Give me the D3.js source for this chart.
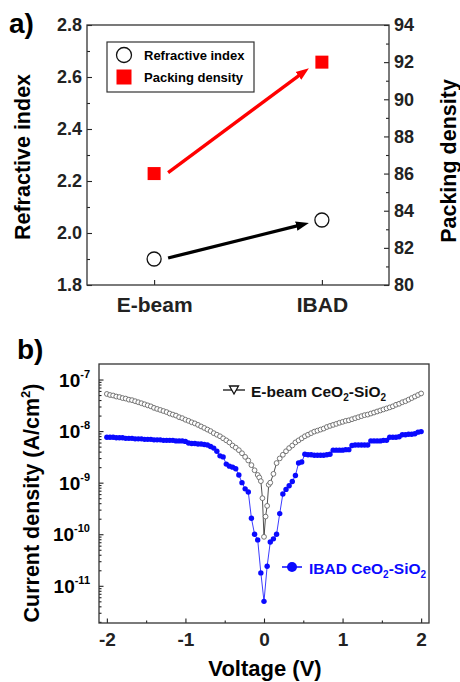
<!DOCTYPE html>
<html>
<head>
<meta charset="utf-8">
<script src="https://cdn.jsdelivr.net/npm/d3@7"></script>
<style>
  body { margin: 0; background: #fff; }
  text { font-family: "Liberation Sans", Arial, sans-serif; font-weight: bold; }
</style>
</head>
<body>
<div id="chart"></div>
<script>
// ---------- panel a) data ----------
const methods = ["E-beam", "IBAD"];
const refractiveIndex = [1.90, 2.05];
const packingDensity = [86, 92];
const riTicks = [1.8, 2.0, 2.2, 2.4, 2.6, 2.8];
const pdTicks = [80, 82, 84, 86, 88, 90, 92, 94];

// ---------- panel b) data (J-V sweep) ----------
const vTicks = [-2, -1, 0, 1, 2];
const vMinorTicks = [-1.5, -0.5, 0.5, 1.5];
const jDecades = [1e-7, 1e-8, 1e-9, 1e-10, 1e-11];

const ebeamV = [-2, -1.96, -1.92, -1.88, -1.84, -1.8, -1.76, -1.72, -1.68, -1.64, -1.6, -1.56, -1.52, -1.48, -1.44,
  -1.4, -1.36, -1.32, -1.28, -1.24, -1.2, -1.16, -1.12, -1.08, -1.04, -1, -0.96, -0.92, -0.88, -0.84, -0.8, -0.76,
  -0.72, -0.68, -0.64, -0.6, -0.56, -0.52, -0.48, -0.44, -0.4, -0.36, -0.32, -0.28, -0.24, -0.2, -0.16, -0.12, -0.08,
  -0.06, -0.04, -0.02, 0, 0.02, 0.04, 0.06, 0.08,
  0.12, 0.16, 0.2, 0.24, 0.28, 0.32, 0.36, 0.4, 0.44, 0.48, 0.52, 0.56, 0.6, 0.64, 0.68, 0.72, 0.76, 0.8, 0.84, 0.88,
  0.92, 0.96, 1, 1.04, 1.08, 1.12, 1.16, 1.2, 1.24, 1.28, 1.32, 1.36, 1.4, 1.44, 1.48, 1.52, 1.56, 1.6, 1.64, 1.68,
  1.72, 1.76, 1.8, 1.84, 1.88, 1.92, 1.96, 2];
const ebeamJ = [5.25e-8, 5.01e-8, 4.9e-8, 4.68e-8, 4.57e-8, 4.37e-8, 4.27e-8, 4.07e-8, 3.98e-8, 3.8e-8, 3.63e-8, 3.47e-8,
  3.31e-8, 3.16e-8, 3.02e-8, 2.82e-8, 2.69e-8, 2.57e-8, 2.45e-8, 2.34e-8, 2.19e-8, 2.09e-8, 2.0e-8, 1.86e-8, 1.78e-8,
  1.66e-8, 1.58e-8, 1.48e-8, 1.41e-8, 1.32e-8, 1.23e-8, 1.15e-8, 1.07e-8, 1.0e-8, 9.12e-9, 8.51e-9, 7.94e-9, 7.24e-9,
  6.61e-9, 6.03e-9, 5.25e-9, 4.79e-9, 4.27e-9, 3.72e-9, 3.16e-9, 2.69e-9, 2.19e-9, 1.74e-9, 1.41e-9,
  1.26e-9, 1.07e-9, 5.0e-10, 8.9e-11, 2.2e-10, 3.55e-10, 9.1e-10, 1.0e-9,
  1.48e-9, 2.4e-9, 2.95e-9, 3.47e-9, 4.07e-9, 4.68e-9, 5.25e-9, 6.03e-9, 6.61e-9, 7.24e-9, 7.94e-9, 8.51e-9, 9.12e-9,
  9.77e-9, 1.02e-8, 1.07e-8, 1.12e-8, 1.2e-8, 1.26e-8, 1.32e-8, 1.38e-8, 1.45e-8, 1.51e-8, 1.58e-8, 1.62e-8, 1.7e-8,
  1.78e-8, 1.86e-8, 1.95e-8, 2.04e-8, 2.09e-8, 2.19e-8, 2.29e-8, 2.4e-8, 2.51e-8, 2.63e-8, 2.75e-8, 2.88e-8, 3.02e-8,
  3.24e-8, 3.39e-8, 3.63e-8, 3.8e-8, 4.07e-8, 4.37e-8, 4.68e-8, 5.01e-8, 5.37e-8];

const ibadV = [-2, -1.96, -1.92, -1.88, -1.84, -1.8, -1.76, -1.72, -1.68, -1.64, -1.6, -1.56, -1.52, -1.48, -1.44,
  -1.4, -1.36, -1.32, -1.28, -1.24, -1.2, -1.16, -1.12, -1.08, -1.04, -1, -0.96, -0.92, -0.88, -0.84, -0.8, -0.76,
  -0.72, -0.68, -0.64, -0.6, -0.56, -0.52, -0.48, -0.44, -0.4, -0.36, -0.32, -0.28, -0.24, -0.2, -0.16, -0.12, -0.08,
  -0.04, 0, 0.04, 0.08, 0.12, 0.16, 0.2, 0.24, 0.28, 0.32, 0.36, 0.4, 0.44, 0.48, 0.52, 0.56, 0.6, 0.64, 0.68, 0.72,
  0.76, 0.8, 0.84, 0.88, 0.92, 0.96, 1, 1.04, 1.08, 1.12, 1.16, 1.2, 1.24, 1.28, 1.32, 1.36, 1.4, 1.44, 1.48, 1.52,
  1.56, 1.6, 1.64, 1.68, 1.72, 1.76, 1.8, 1.84, 1.88, 1.92, 1.96, 2];
const ibadJ = [7.59e-9, 7.59e-9, 7.59e-9, 7.41e-9, 7.41e-9, 7.41e-9, 7.24e-9, 7.24e-9, 7.24e-9, 7.08e-9, 7.08e-9,
  7.08e-9, 6.92e-9, 6.92e-9, 6.92e-9, 6.76e-9, 6.76e-9, 6.76e-9, 6.61e-9, 6.61e-9, 6.61e-9, 6.61e-9, 6.46e-9, 6.46e-9,
  6.46e-9, 6.31e-9, 5.89e-9, 5.75e-9, 5.75e-9, 5.62e-9, 5.62e-9, 5.5e-9, 5.37e-9, 5.01e-9, 4.68e-9, 4.07e-9, 3.31e-9,
  3.16e-9, 2.29e-9, 2.09e-9, 2.0e-9, 1.86e-9, 1.41e-9, 1.0e-9, 7.59e-10, 6.61e-10, 2.04e-10, 1.0e-10, 7.76e-11,
  1.78e-11, 5.0e-12, 2.4e-11, 7.08e-11, 8.13e-11, 1.0e-10, 2.51e-10, 6.03e-10, 7.41e-10, 8.71e-10, 1.05e-9, 1.38e-9,
  2.4e-9, 2.51e-9, 3.55e-9, 3.47e-9, 3.47e-9, 3.39e-9, 3.39e-9, 3.39e-9, 3.39e-9, 3.47e-9, 3.55e-9, 4.27e-9, 4.27e-9,
  4.27e-9, 4.27e-9, 4.37e-9, 4.37e-9, 5.25e-9, 5.37e-9, 5.37e-9, 5.37e-9, 5.37e-9, 5.37e-9, 6.46e-9, 6.46e-9, 6.46e-9,
  6.46e-9, 6.61e-9, 6.61e-9, 7.59e-9, 7.59e-9, 7.59e-9, 7.76e-9, 8.51e-9, 8.51e-9, 8.71e-9, 8.71e-9, 8.91e-9, 9.55e-9,
  9.77e-9];

const RED = "#ff0000";
const BLUE = "#0a0aff";

let svg = d3.select("#chart").append("svg")
    .attr("width", 460)
    .attr("height", 682);

// arrow heads for panel a
let defs = svg.append("defs");
[["headRed", RED], ["headBlack", "#000"]].forEach(([id, c]) => {
  defs.append("marker")
      .attr("id", id)
      .attr("markerUnits", "userSpaceOnUse")
      .attr("viewBox", "0 -6 13 12")
      .attr("markerWidth", 13).attr("markerHeight", 12)
      .attr("refX", 6).attr("refY", 0)
      .attr("orient", "auto")
    .append("path")
      .attr("d", "M0,-4.8 L13,0 L0,4.8 Z")
      .attr("fill", c);
});

let styleAxis = (g, size) => {
  g.select(".domain").remove();
  g.attr("font-family", null).attr("font-size", size).attr("color", "#222");
  g.selectAll(".tick line").attr("stroke-width", 1.1);
};

// ================= panel a) =================
let xA = d3.scalePoint().domain(methods).range([87, 389]).padding(0.4);
let yRI = d3.scaleLinear().domain([1.8, 2.8]).range([285, 25]);
let yPD = d3.scaleLinear().domain([80, 94]).range([285, 25]);

let riMinor = d3.pairs(riTicks).map(([a, b]) => (a + b) / 2);
let pdMinor = d3.pairs(pdTicks).map(([a, b]) => (a + b) / 2);

// left axis (refractive index)
svg.append("g").attr("transform", "translate(87,0)")
    .call(d3.axisLeft(yRI).tickValues(riMinor).tickSize(-3).tickFormat(""))
    .call(g => styleAxis(g, 18));
svg.append("g").attr("transform", "translate(87,0)")
    .call(d3.axisLeft(yRI).tickValues(riTicks).tickSize(-5).tickPadding(5).tickFormat(d3.format(".1f")))
    .call(g => styleAxis(g, 18));

// right axis (packing density)
svg.append("g").attr("transform", "translate(389,0)")
    .call(d3.axisRight(yPD).tickValues(pdMinor).tickSize(-3).tickFormat(""))
    .call(g => styleAxis(g, 18));
svg.append("g").attr("transform", "translate(389,0)")
    .call(d3.axisRight(yPD).tickValues(pdTicks).tickSize(-5).tickPadding(5))
    .call(g => styleAxis(g, 18));

// bottom axis (method)
svg.append("g").attr("transform", "translate(0,285)")
    .call(d3.axisBottom(xA).tickSize(-5).tickPadding(12))
    .call(g => styleAxis(g, 21));

// frame
svg.append("rect")
    .attr("x", xA.range()[0]).attr("y", yRI.range()[1])
    .attr("width", xA.range()[1] - xA.range()[0])
    .attr("height", yRI.range()[0] - yRI.range()[1])
    .attr("fill", "none").attr("stroke", "#333").attr("stroke-width", 1.3);

// axis titles
svg.append("text")
    .attr("transform", "translate(30,157) rotate(-90)")
    .attr("text-anchor", "middle").attr("font-size", 21.5)
    .text("Refractive index");
svg.append("text")
    .attr("transform", "translate(456,161) rotate(-90)")
    .attr("text-anchor", "middle").attr("font-size", 21.5)
    .text("Packing density");
svg.append("text").attr("x", 9).attr("y", 33).attr("font-size", 28).text("a)");

// arrows between the two methods
let drawArrow = (x1, y1, x2, y2, color, head) => {
  let len = Math.hypot(x2 - x1, y2 - y1);
  let ux = (x2 - x1) / len, uy = (y2 - y1) / len;
  svg.append("line")
      .attr("x1", x1).attr("y1", y1)
      .attr("x2", x2 - ux * 7).attr("y2", y2 - uy * 7)
      .attr("stroke", color).attr("stroke-width", 3.3)
      .attr("marker-end", `url(#${head})`);
};
drawArrow(xA(methods[0]) + 14, yPD(packingDensity[0]) - 1, xA(methods[1]) - 13, yPD(packingDensity[1]) + 6, RED, "headRed");
drawArrow(xA(methods[0]) + 14, yRI(refractiveIndex[0]) - 1, xA(methods[1]) - 13, yRI(refractiveIndex[1]) + 3, "#000", "headBlack");

// markers
svg.selectAll(".ri").data(methods).enter()
  .append("circle")
    .attr("class", "ri")
    .attr("cx", d => xA(d))
    .attr("cy", (d, i) => yRI(refractiveIndex[i]))
    .attr("r", 7)
    .attr("fill", "#fff").attr("stroke", "#111").attr("stroke-width", 1.3);
svg.selectAll(".pd").data(methods).enter()
  .append("rect")
    .attr("class", "pd")
    .attr("x", d => xA(d) - 6.5)
    .attr("y", (d, i) => yPD(packingDensity[i]) - 6.5)
    .attr("width", 13).attr("height", 13)
    .attr("fill", RED);

// legend a
let legA = svg.append("g");
legA.append("rect").attr("x", 107).attr("y", 42).attr("width", 147).attr("height", 50)
    .attr("fill", "#fff").attr("stroke", "#333").attr("stroke-width", 1.2);
legA.append("circle").attr("cx", 124).attr("cy", 55).attr("r", 7.5)
    .attr("fill", "#fff").attr("stroke", "#111").attr("stroke-width", 1.3);
legA.append("rect").attr("x", 116.5).attr("y", 69.5).attr("width", 15).attr("height", 15).attr("fill", RED);
legA.append("text").attr("x", 144).attr("y", 59.5).attr("font-size", 13).text("Refractive index");
legA.append("text").attr("x", 144).attr("y", 81.5).attr("font-size", 13).text("Packing density");

// ================= panel b) =================
let xB = d3.scaleLinear().domain([-2.1, 2.1]).range([99, 429]);
let yB = d3.scaleLog().domain([1.9e-12, 2e-7]).range([623, 364]);

// log minor ticks 2..9 within each decade
let jMinor = [];
for (let k = -12; k <= -7; k++)
  for (let m = 2; m <= 9; m++) {
    let v = m * Math.pow(10, k);
    if (v > yB.domain()[0] && v < yB.domain()[1]) jMinor.push(v);
  }

svg.append("g").attr("transform", "translate(0,623)")
    .call(d3.axisBottom(xB).tickValues(vMinorTicks).tickSize(-2.5).tickFormat(""))
    .call(g => styleAxis(g, 19));
svg.append("g").attr("transform", "translate(0,623)")
    .call(d3.axisBottom(xB).tickValues(vTicks).tickSize(-4.5).tickPadding(10).tickFormat(d => String(d)))
    .call(g => styleAxis(g, 19));
svg.append("g").attr("transform", "translate(99,0)")
    .call(d3.axisLeft(yB).tickValues(jMinor).tickSize(-2.5).tickFormat(""))
    .call(g => styleAxis(g, 19));
svg.append("g").attr("transform", "translate(99,0)")
    .call(d3.axisLeft(yB).tickValues(jDecades).tickSize(-4.5).tickFormat(""))
    .call(g => styleAxis(g, 19));

// decade labels 10^n
let yLabels = svg.selectAll(".ylab").data(jDecades).enter()
  .append("text")
    .attr("class", "ylab")
    .attr("x", 90)
    .attr("y", d => yB(d) + 7)
    .attr("text-anchor", "end")
    .attr("font-size", 19);
yLabels.append("tspan").text("10");
yLabels.append("tspan").attr("dy", -9).attr("font-size", 11).text(d => String(Math.round(Math.log10(d))));

svg.append("rect")
    .attr("x", xB.range()[0]).attr("y", yB.range()[1])
    .attr("width", xB.range()[1] - xB.range()[0])
    .attr("height", yB.range()[0] - yB.range()[1])
    .attr("fill", "none").attr("stroke", "#333").attr("stroke-width", 1.3);

let yTitle = svg.append("text")
    .attr("transform", "translate(39,503) rotate(-90)")
    .attr("text-anchor", "middle").attr("font-size", 21.5);
yTitle.append("tspan").text("Current density (A/cm");
yTitle.append("tspan").attr("dy", -9).attr("font-size", 13).text("2");
yTitle.append("tspan").attr("dy", 9).text(")");

// reference crops this title at the bottom edge; keep the glyph bodies inside
svg.append("text").attr("x", 265).attr("y", 676).attr("text-anchor", "middle")
    .attr("font-size", 22).text("Voltage (V)");
svg.append("text").attr("x", 17).attr("y", 359).attr("font-size", 28).text("b)");

// E-beam series: open circles
let ebeam = ebeamV.map((v, i) => ({v: v, j: ebeamJ[i]}));
let ibad = ibadV.map((v, i) => ({v: v, j: ibadJ[i]}));
let lineB = d3.line().x(d => xB(d.v)).y(d => yB(d.j));

svg.append("path").datum(ebeam)
    .attr("d", lineB).attr("fill", "none").attr("stroke", "#222").attr("stroke-width", 0.8);
svg.selectAll(".eb").data(ebeam).enter()
  .append("circle")
    .attr("class", "eb")
    .attr("cx", d => xB(d.v)).attr("cy", d => yB(d.j))
    .attr("r", 2.4)
    .attr("fill", "#fff").attr("stroke", "#666").attr("stroke-width", 0.9);

// IBAD series: filled blue dots
svg.append("path").datum(ibad)
    .attr("d", lineB).attr("fill", "none").attr("stroke", BLUE).attr("stroke-width", 0.8);
svg.selectAll(".ib").data(ibad).enter()
  .append("circle")
    .attr("class", "ib")
    .attr("cx", d => xB(d.v)).attr("cy", d => yB(d.j))
    .attr("r", 2.7)
    .attr("fill", BLUE);

// legend b
let chemLabel = (x, y, color, prefix) => {
  let t = svg.append("text").attr("x", x).attr("y", y).attr("font-size", 15.5).attr("fill", color);
  t.append("tspan").text(prefix + "CeO");
  t.append("tspan").attr("dy", 4).attr("font-size", 10).text("2");
  t.append("tspan").attr("dy", -4).text("-SiO");
  t.append("tspan").attr("dy", 4).attr("font-size", 10).text("2");
};
svg.append("line").attr("x1", 223).attr("x2", 245).attr("y1", 390).attr("y2", 390)
    .attr("stroke", "#111").attr("stroke-width", 1.3);
svg.append("path").attr("transform", "translate(234,390)")
    .attr("d", "M-4.5,-4 L4.5,-4 L0,4 Z")
    .attr("fill", "#fff").attr("stroke", "#111").attr("stroke-width", 1.3);
chemLabel(251, 396.5, "#111", "E-beam ");

svg.append("line").attr("x1", 282).attr("x2", 302).attr("y1", 567).attr("y2", 567)
    .attr("stroke", BLUE).attr("stroke-width", 1.5);
svg.append("circle").attr("cx", 292).attr("cy", 567).attr("r", 5).attr("fill", BLUE);
chemLabel(309, 574, BLUE, "IBAD ");
</script>
</body>
</html>
